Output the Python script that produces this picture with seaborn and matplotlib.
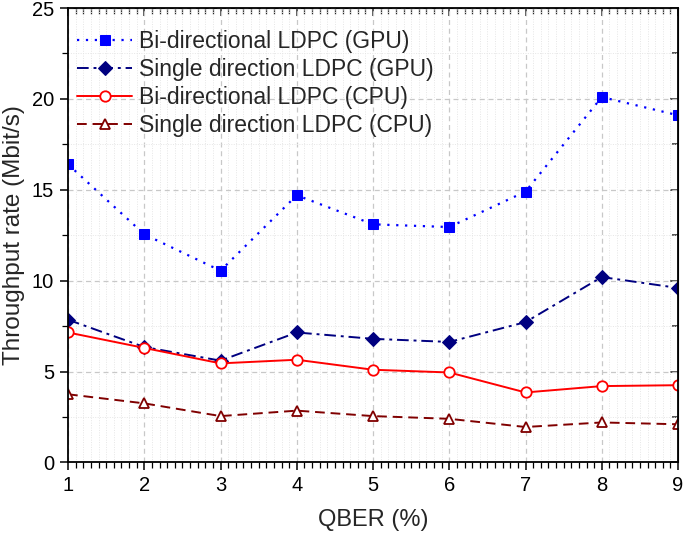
import matplotlib
matplotlib.use("Agg")
import matplotlib.pyplot as plt
from matplotlib.ticker import MultipleLocator
import seaborn as sns

qber = [1, 2, 3, 4, 5, 6, 7, 8, 9]
gpu_bi = [16.4, 12.55, 10.55, 14.7, 13.1, 12.95, 14.9, 20.1, 19.1]
gpu_single = [7.85, 6.35, 5.6, 7.15, 6.8, 6.63, 7.72, 10.2, 9.6]
cpu_bi = [7.15, 6.3, 5.45, 5.65, 5.1, 4.95, 3.85, 4.2, 4.25]
cpu_single = [3.75, 3.25, 2.55, 2.85, 2.55, 2.4, 1.95, 2.2, 2.1]

labels = ["Bi-directional LDPC (GPU)", "Single direction LDPC (GPU)",
          "Bi-directional LDPC (CPU)", "Single direction LDPC (CPU)"]

sns.set_style("ticks")
plt.rcParams["font.family"] = ["Liberation Sans", "DejaVu Sans"]

fig = plt.figure(figsize=(6.83, 5.34), dpi=100)
ax = fig.add_axes([0.0996, 0.134, 0.8931, 0.851])

sns.lineplot(x=qber, y=gpu_bi, ax=ax, color="#0000ff", linestyle=(0, (1, 3)),
             marker="s", markersize=7, markerfacecolor="#0000ff",
             markeredgecolor="#0000ff", lw=1.6, label=labels[0])
sns.lineplot(x=qber, y=gpu_single, ax=ax, color="#000080",
             linestyle=(0, (6, 2.5, 1.5, 2.5)), marker="D", markersize=7,
             markerfacecolor="#000080", markeredgecolor="#000080", lw=1.4,
             label=labels[1])
sns.lineplot(x=qber, y=cpu_bi, ax=ax, color="#ff0000", linestyle="-",
             marker="o", markersize=7.5, markerfacecolor="white",
             markeredgecolor="#ff0000", markeredgewidth=1.3, lw=1.4,
             label=labels[2])
sns.lineplot(x=qber, y=cpu_single, ax=ax, color="#800000",
             linestyle=(0, (5, 3)), marker="^", markersize=7.5,
             markerfacecolor="white", markeredgecolor="#800000",
             markeredgewidth=1.3, lw=1.4, label=labels[3])

ax.set_xlim(1, 9)
ax.set_ylim(0, 25)
ax.xaxis.set_major_locator(MultipleLocator(1))
ax.xaxis.set_minor_locator(MultipleLocator(0.1))
ax.yaxis.set_major_locator(MultipleLocator(5))
ax.yaxis.set_minor_locator(MultipleLocator(2.5))

ax.grid(which="major", color="#c8c8c8", linestyle=(0, (4, 3)), lw=0.9)
ax.grid(which="minor", color="#e6e6e6", linestyle=(0, (1, 1.5)), lw=0.7)
ax.set_axisbelow(True)

for s in ax.spines.values():
    s.set_linewidth(1.3)
    s.set_color("black")

ax.tick_params(which="both", direction="out", labelsize=14.5, width=1.1,
               colors="black")
ax.tick_params(which="major", length=6, pad=4)
ax.tick_params(which="minor", length=4, width=0.9)

# mirrored ticks on top and right, pointing inward
ax_top = ax.secondary_xaxis("top")
ax_top.xaxis.set_major_locator(MultipleLocator(1))
ax_top.xaxis.set_minor_locator(MultipleLocator(0.1))
ax_top.tick_params(which="both", direction="in", labeltop=False, width=1.1)
ax_top.tick_params(which="major", length=6)
ax_top.tick_params(which="minor", length=4, width=0.9)
ax_right = ax.secondary_yaxis("right")
ax_right.yaxis.set_major_locator(MultipleLocator(5))
ax_right.yaxis.set_minor_locator(MultipleLocator(2.5))
ax_right.tick_params(which="both", direction="in", labelright=False, width=1.1)
ax_right.tick_params(which="major", length=6)
ax_right.tick_params(which="minor", length=4, width=1.1)

ax.set_xlabel("QBER (%)", fontsize=17, labelpad=10)
ax.set_ylabel("Throughput rate (Mbit/s)", fontsize=17.5, labelpad=5)

ax.legend(loc="upper left", frameon=False, fontsize=16.5, handlelength=2.4,
          handletextpad=0.3, labelspacing=0.22, borderaxespad=0.0,
          borderpad=0.4, bbox_to_anchor=(0.0, 0.972))

fig.savefig("out.png", dpi=100)
